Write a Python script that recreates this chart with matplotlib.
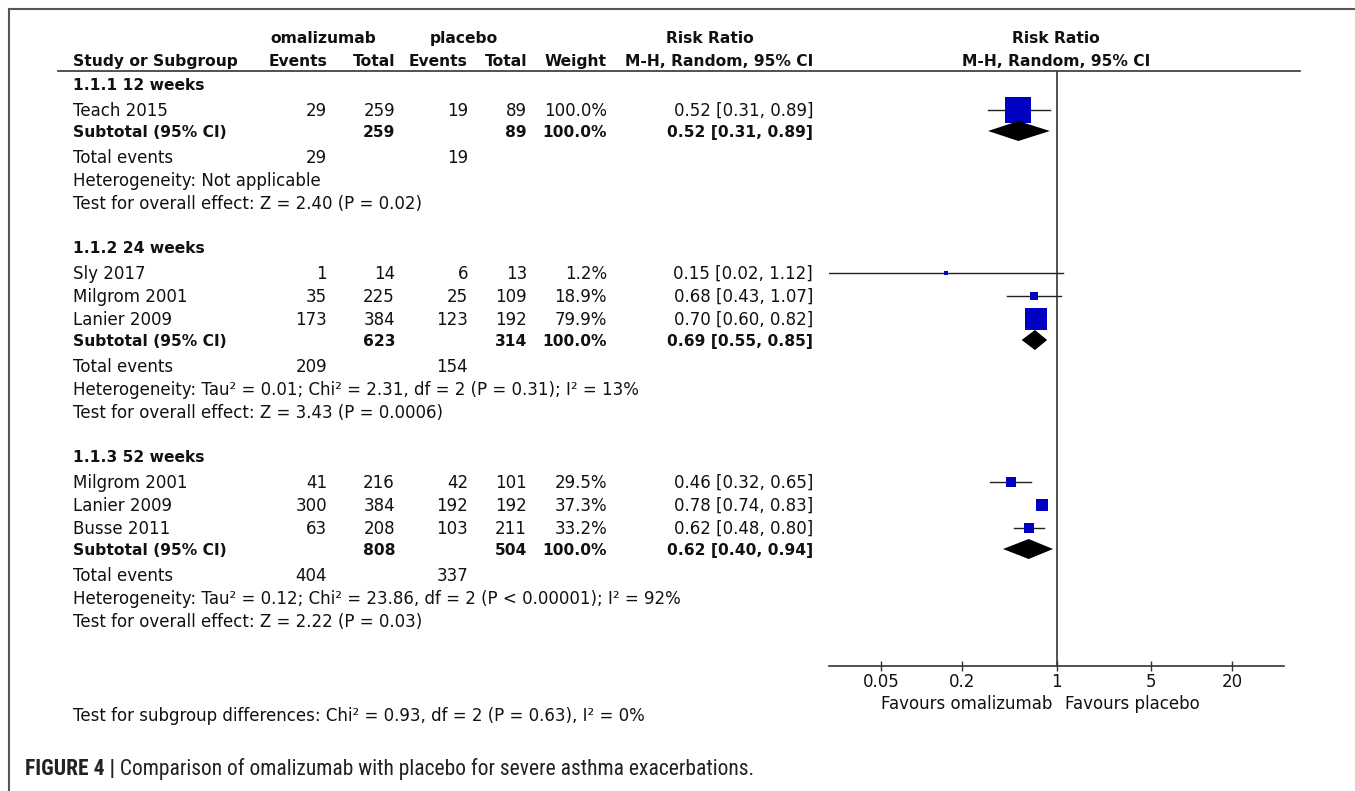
import matplotlib
matplotlib.use('Agg')
from matplotlib import pyplot as plt
from matplotlib import font_manager
from matplotlib.ticker import NullLocator

# dane z wykresu
groups = ['1.1.1 12 weeks', '1.1.2 24 weeks', '1.1.3 52 weeks']
studies = [['Teach 2015'],
           ['Sly 2017', 'Milgrom 2001', 'Lanier 2009'],
           ['Milgrom 2001', 'Lanier 2009', 'Busse 2011']]
oma_events = [[29], [1, 35, 173], [41, 300, 63]]
oma_total = [[259], [14, 225, 384], [216, 384, 208]]
pla_events = [[19], [6, 25, 123], [42, 192, 103]]
pla_total = [[89], [13, 109, 192], [101, 192, 211]]
weights = [[100.0], [1.2, 18.9, 79.9], [29.5, 37.3, 33.2]]
rr = [[0.52], [0.15, 0.68, 0.70], [0.46, 0.78, 0.62]]
rr_lo = [[0.31], [0.02, 0.43, 0.60], [0.32, 0.74, 0.48]]
rr_hi = [[0.89], [1.12, 1.07, 0.82], [0.65, 0.83, 0.80]]

sub_oma_total = [259, 623, 808]
sub_pla_total = [89, 314, 504]
sub_rr = [0.52, 0.69, 0.62]
sub_lo = [0.31, 0.55, 0.40]
sub_hi = [0.89, 0.85, 0.94]
tot_oma_events = [29, 209, 404]
tot_pla_events = [19, 154, 337]
heterogeneity = ['Heterogeneity: Not applicable',
                 'Heterogeneity: Tau² = 0.01; Chi² = 2.31, df = 2 (P = 0.31); I² = 13%',
                 'Heterogeneity: Tau² = 0.12; Chi² = 23.86, df = 2 (P < 0.00001); I² = 92%']
overall = ['Test for overall effect: Z = 2.40 (P = 0.02)',
           'Test for overall effect: Z = 3.43 (P = 0.0006)',
           'Test for overall effect: Z = 2.22 (P = 0.03)']
subgroup_diff = 'Test for subgroup differences: Chi² = 0.93, df = 2 (P = 0.63), I² = 0%'
xticks = [0.05, 0.2, 1, 5, 20]
xtick_labels = ['0.05', '0.2', '1', '5', '20']
caption_bold = 'FIGURE 4 |'
caption_text = ' Comparison of omalizumab with placebo for severe asthma exacerbations.'

# uklad (piksele)
W, H = 1355, 791
TXT = '#111111'
BLUE = '#0000c0'
LINE = '#333333'
x_lab, x_oe, x_ot, x_pe, x_pt, x_w, x_ci = 73, 327, 395, 468, 527, 607, 813
x_fc = 1056
fx0, fx1, fy0, fy1 = 829, 1284, 71, 665.5

# czcionka podpisu (waska, jesli jest)
names = {f.name for f in font_manager.fontManager.ttflist}
cap_font, cap_size = 'Liberation Sans', 13.8
for fam, size in [('Roboto Condensed', 15.5), ('Archivo Narrow', 16), ('PT Sans Narrow', 16)]:
    if fam in names:
        cap_font, cap_size = fam, size
        break

fig = plt.figure(figsize=(W / 100, H / 100), dpi=100)
fig.patch.set_facecolor('white')
bg = fig.add_axes([0, 0, 1, 1])
bg.set_xlim(0, W)
bg.set_ylim(H, 0)
bg.axis('off')


def txt(x, y, s, ha='left', bold=False):
    bg.text(x, y + 6, s, ha=ha, va='baseline', color=TXT,
            fontsize=11.2 if bold else 12,
            fontweight='bold' if bold else 'normal')


# ramka
bg.plot([8.5, 8.5], [H, 9], color='#555555', lw=1.5)
bg.plot([8.5, W], [9, 9], color='#555555', lw=1.5)

# naglowek
txt(323, 37, 'omalizumab', ha='center', bold=True)
txt(464, 37, 'placebo', ha='center', bold=True)
txt(710, 37, 'Risk Ratio', ha='center', bold=True)
txt(x_fc, 37, 'Risk Ratio', ha='center', bold=True)
txt(x_lab, 60, 'Study or Subgroup', bold=True)
txt(x_oe, 60, 'Events', ha='right', bold=True)
txt(x_ot, 60, 'Total', ha='right', bold=True)
txt(x_pe, 60, 'Events', ha='right', bold=True)
txt(x_pt, 60, 'Total', ha='right', bold=True)
txt(x_w, 60, 'Weight', ha='right', bold=True)
txt(x_ci, 60, 'M-H, Random, 95% CI', ha='right', bold=True)
txt(x_fc, 60, 'M-H, Random, 95% CI', ha='center', bold=True)
bg.plot([58, 1300], [fy0, fy0], color=LINE, lw=1.2)

# os wykresu drzewkowego
ax = fig.add_axes([fx0 / W, 1 - fy1 / H, (fx1 - fx0) / W, (fy1 - fy0) / H])
ax.set_xscale('log')
ax.set_xlim(0.0205, 48.5)
ax.set_ylim(fy1, fy0)
ax.patch.set_alpha(0)
for s in ['top', 'left', 'right']:
    ax.spines[s].set_visible(False)
ax.spines['bottom'].set_color(LINE)
ax.spines['bottom'].set_linewidth(1.2)
ax.set_xticks(xticks)
ax.set_xticklabels(xtick_labels)
ax.xaxis.set_minor_locator(NullLocator())
ax.set_yticks([])
ax.tick_params(axis='x', direction='inout', length=7, width=1, pad=2,
               labelsize=12, color=LINE, labelcolor=TXT)
ax.axvline(1, color=LINE, lw=1.2, zorder=1)

y = 84
for g in range(len(groups)):
    txt(x_lab, y, groups[g], bold=True)
    y += 26
    for i in range(len(studies[g])):
        txt(x_lab, y, studies[g][i])
        txt(x_oe, y, str(oma_events[g][i]), ha='right')
        txt(x_ot, y, str(oma_total[g][i]), ha='right')
        txt(x_pe, y, str(pla_events[g][i]), ha='right')
        txt(x_pt, y, str(pla_total[g][i]), ha='right')
        txt(x_w, y, '%.1f%%' % weights[g][i], ha='right')
        txt(x_ci, y, '%.2f [%.2f, %.2f]' % (rr[g][i], rr_lo[g][i], rr_hi[g][i]), ha='right')
        ax.plot([rr_lo[g][i], rr_hi[g][i]], [y, y], color='#222222', lw=1, zorder=2)
        side = 2.8 + 0.232 * weights[g][i]
        ax.scatter([rr[g][i]], [y], s=(side * 0.72) ** 2, marker='s',
                   color=BLUE, linewidths=0, zorder=3)
        y += 23
    y -= 2
    txt(x_lab, y, 'Subtotal (95% CI)', bold=True)
    txt(x_ot, y, str(sub_oma_total[g]), ha='right', bold=True)
    txt(x_pt, y, str(sub_pla_total[g]), ha='right', bold=True)
    txt(x_w, y, '100.0%', ha='right', bold=True)
    txt(x_ci, y, '%.2f [%.2f, %.2f]' % (sub_rr[g], sub_lo[g], sub_hi[g]), ha='right', bold=True)
    ax.fill([sub_lo[g], sub_rr[g], sub_hi[g], sub_rr[g]], [y, y - 10, y, y + 10],
            color='black', lw=0, zorder=3)
    y += 26
    txt(x_lab, y, 'Total events')
    txt(x_oe, y, str(tot_oma_events[g]), ha='right')
    txt(x_pe, y, str(tot_pla_events[g]), ha='right')
    y += 23
    txt(x_lab, y, heterogeneity[g])
    y += 23
    txt(x_lab, y, overall[g])
    y += 44

txt(1052, 703, 'Favours omalizumab', ha='right')
txt(1065, 703, 'Favours placebo')
txt(x_lab, 715, subgroup_diff)

t1 = bg.text(25, 775.5, caption_bold, fontsize=cap_size, fontweight='bold',
             family=cap_font, color='#222222', va='baseline')
bg.annotate(caption_text, xy=(1, 0), xycoords=t1, va='bottom', ha='left',
            fontsize=cap_size, family=cap_font, color='#222222')

fig.savefig('out.png', dpi=100, facecolor='white')
